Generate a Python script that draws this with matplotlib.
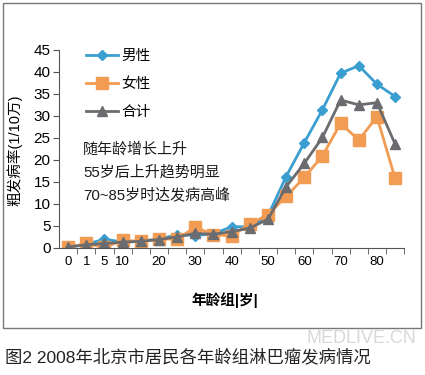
import matplotlib
matplotlib.use("Agg")
import matplotlib.pyplot as plt
from matplotlib.patches import Rectangle

plt.rcParams['font.family'] = ['Liberation Sans', 'Noto Sans CJK SC', 'DejaVu Sans']

# 年龄组 (19 组)
age_groups = ['0', '1', '5', '10', '15', '20', '25', '30', '35', '40',
              '45', '50', '55', '60', '65', '70', '75', '80', '85']
tick_labels = ['0', '1', '5', '10', '', '20', '', '30', '', '40',
               '', '50', '', '60', '', '70', '', '80', '']

male = [0.2, 0.8, 2.0, 1.3, 1.5, 2.0, 3.0, 2.8, 3.2, 4.8,
        4.8, 7.3, 16.2, 23.9, 31.4, 39.7, 41.4, 37.2, 34.4]
female = [0.1, 1.0, 0.1, 1.7, 1.5, 2.0, 2.0, 4.7, 3.0, 2.7,
          5.5, 7.5, 11.7, 16.0, 20.9, 28.3, 24.5, 29.8, 15.8]
total = [0.2, 0.7, 1.0, 1.3, 1.5, 1.9, 2.5, 3.3, 3.1, 3.7,
         4.5, 6.5, 13.9, 19.2, 25.1, 33.6, 32.5, 33.0, 23.6]

c_male = '#3a9fd0'
c_female = '#f29b52'
c_total = '#6b6c70'

fig = plt.figure(figsize=(4.25, 3.75), dpi=100)
ax = fig.add_axes([0.139, 0.339, 0.812, 0.528])

x = list(range(len(age_groups)))
ax.plot(x, male, color=c_male, lw=2, marker='D', ms=5, label='男性')
ax.plot(x, female, color=c_female, lw=2, marker='s', ms=9, label='女性')
ax.plot(x, total, color=c_total, lw=2, marker='^', ms=7, label='合计')

ax.set_xlim(-0.5, len(x) - 0.5)
ax.set_ylim(0, 45)
ax.set_yticks(range(0, 46, 5))
ax.tick_params(axis='y', labelsize=11, length=4, color='#555555', pad=2)
ax.set_xticks(x)
ax.set_xticklabels(tick_labels, fontsize=9.5)
ax.tick_params(axis='x', length=0, pad=6)
ax.set_xticks([i - 0.5 for i in range(1, len(x) + 1)], minor=True)
ax.tick_params(axis='x', which='minor', length=4, color='#555555')

for s in ['top', 'right']:
    ax.spines[s].set_visible(False)
for s in ['left', 'bottom']:
    ax.spines[s].set_color('#555555')

ax.legend(loc='upper left', bbox_to_anchor=(0.04, 1.07), frameon=False,
          fontsize=10.5, handlelength=2.2, labelspacing=0.95, handletextpad=0.2)

notes = ['随年龄增长上升', '55岁后上升趋势明显', '70~85岁时达发病高峰']
for k, t in enumerate(notes):
    ax.text(0.07, 0.495 - k * 0.113, t, transform=ax.transAxes,
            fontsize=10.8, va='center', ha='left', color='#1a1a1a')

fig.text(0.035, 0.6, '粗发病率(1/10万)', rotation=90, fontsize=10.5,
         ha='center', va='center')
fig.text(0.53, 0.2, '年龄组|岁|', fontsize=10.5, ha='center', va='center',
         fontweight='bold')

fig.patches.append(Rectangle((3 / 425, 1 - 328 / 375), 418 / 425, 325 / 375,
                             transform=fig.transFigure, fill=False,
                             edgecolor='#777777', lw=1))

fig.text(0.012, 0.048, '图2 2008年北京市居民各年龄组淋巴瘤发病情况',
         fontsize=12.5, ha='left', va='center', color='#222222')
fig.text(0.98, 0.098, 'MEDLIVE.CN', fontsize=13, ha='right', va='center',
         color='#d8d8d8')

fig.savefig('out.png', dpi=100)
